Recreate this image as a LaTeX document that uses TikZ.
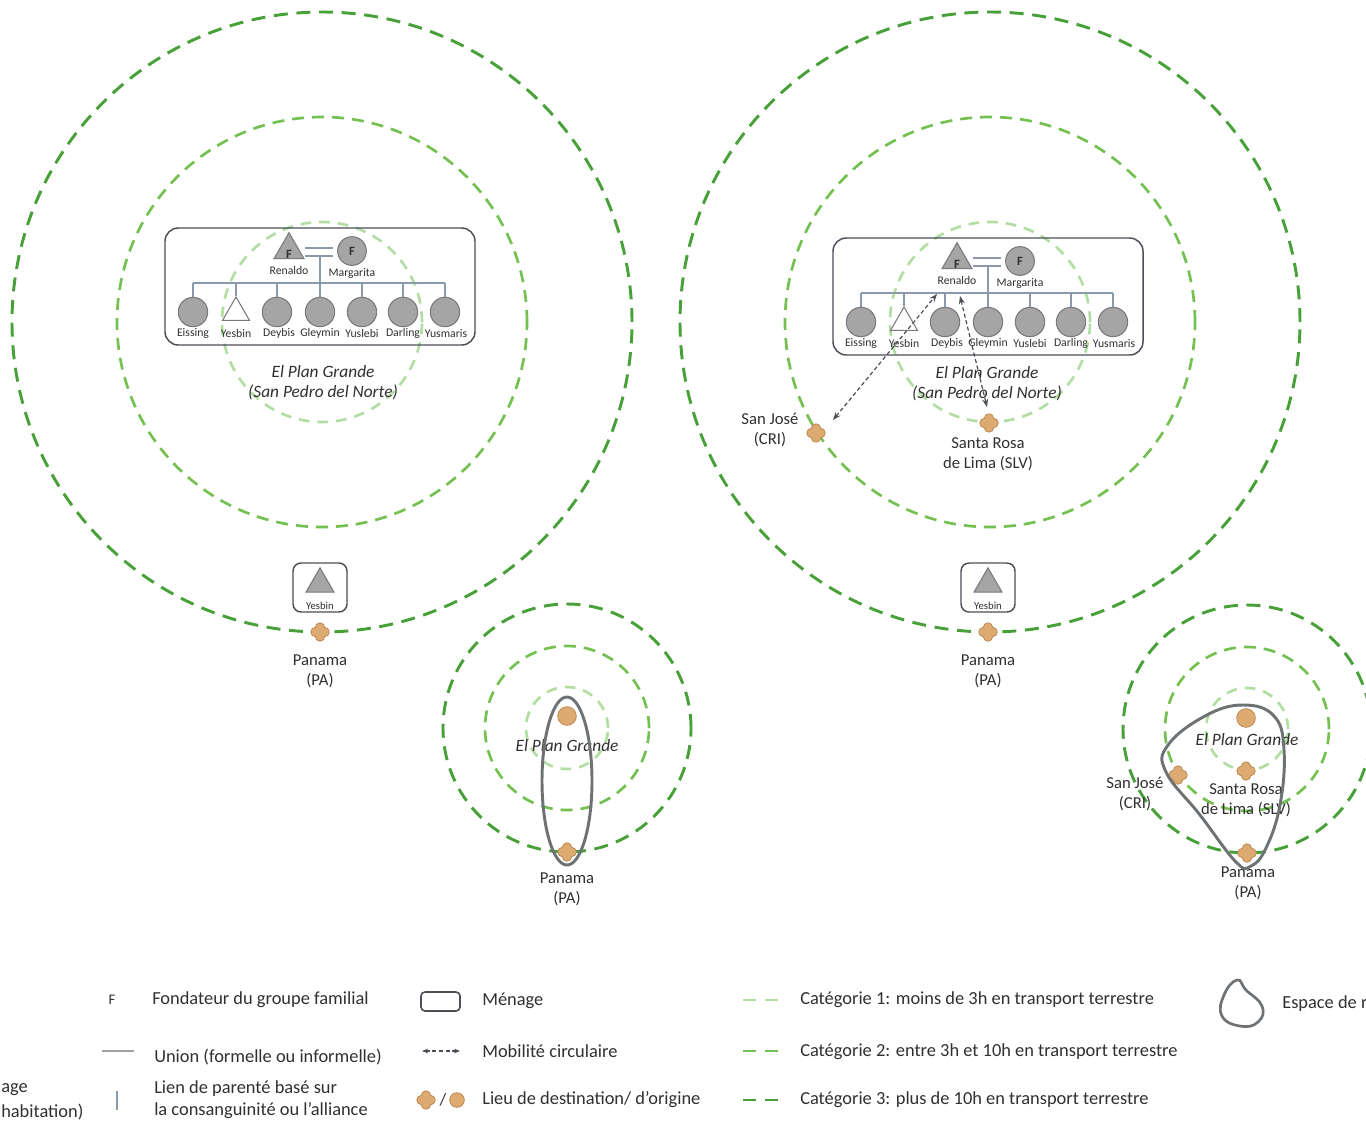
\documentclass[tikz,border=0pt]{standalone}
\usepackage{fontspec}
\setmainfont{Carlito}
\usetikzlibrary{shapes.geometric,arrows.meta}
\definecolor{cA}{HTML}{B3DEA3}
\definecolor{cB}{HTML}{74C050}
\definecolor{cC}{HTML}{47A138}
\definecolor{tanf}{HTML}{DDAA72}
\definecolor{tanl}{HTML}{BF8B52}
\definecolor{pgray}{HTML}{A5A5A5}
\definecolor{pline}{HTML}{7A7A7A}
\definecolor{treel}{HTML}{8A9AAB}
\definecolor{boxl}{HTML}{4A4F55}
\definecolor{txt}{HTML}{303030}
\definecolor{blobc}{HTML}{6E7275}
\tikzset{
 catA/.style={draw=cA, line width=2pt, dash pattern=on 8pt off 6pt},
 catB/.style={draw=cB, line width=2pt, dash pattern=on 9pt off 6pt},
 catC/.style={draw=cC, line width=2.2pt, dash pattern=on 10.5pt off 6.5pt},
 fem/.style={circle, draw=pline, fill=pgray, line width=0.8pt, minimum size=22pt, inner sep=0pt},
 mal/.style={regular polygon, regular polygon sides=3, draw=pline, fill=pgray, line width=0.8pt, inner sep=0pt},
 malw/.style={mal, fill=white},
 hbox/.style={draw=boxl, rounded corners=10pt, line width=1.1pt, inner sep=0pt},
 tree/.style={draw=treel, line width=0.9pt},
 nm/.style={font=\fontsize{8.8}{9}\selectfont, inner sep=0pt},
 ff/.style={font=\bfseries\fontsize{9.5}{9.5}\selectfont, inner sep=0pt},
 plc/.style={font=\fontsize{12.5}{15}\selectfont, align=center, inner sep=0pt},
 plci/.style={font=\itshape\fontsize{13}{15}\selectfont, align=center, inner sep=0pt},
 leg/.style={font=\fontsize{13.8}{16.5}\selectfont, inner sep=0pt, anchor=west, align=left},
 orig/.style={circle, fill=tanf, draw=tanl, line width=0.6pt, minimum size=14pt, inner sep=0pt},
 blob/.style={draw=blobc, line width=2.2pt},
 mob/.style={draw=boxl, line width=0.9pt, densely dashed, {Stealth[length=6pt,width=4.5pt]}-{Stealth[length=6pt,width=4.5pt]}},
 pics/dest/.style={code={
   \foreach \a in {0,90,180,270}{\fill[tanl] (\a:4.5) circle (3.9pt);}
   \foreach \a in {0,90,180,270}{\fill[tanf] (\a:4.5) circle (3.1pt);}
   \fill[tanf] (0,0) circle (3.6pt);
 }}
}
\newcommand\famtree[1]{%
 \node[hbox, minimum width=232.5pt, minimum height=87.75pt] (#1box) at (320,286.5) {};
 \node[mal, minimum size=26pt] (#1ren) at (289,250) {};
 \node[ff] at (289,254) {F};
 \node[fem, minimum size=21.5pt, font=\bfseries\fontsize{9.5}{9.5}\selectfont] (#1mar) at (352,251) {F};
 \node[nm] at (289,270) {Renaldo};
 \node[nm] at (352,273) {Margarita};
 \draw[tree] (305,248) -- (333,248);
 \draw[tree] (305,256) -- (333,256);
 \coordinate (#1sib) at (320,283);
 \draw[tree] (320,256) -- (#1sib);
 \node[fem] (#1c1) at (193,312) {};
 \node[malw, minimum size=23.4pt] (#1c2) at (236,312.6) {};
 \node[fem] (#1c3) at (277,312) {};
 \node[fem] (#1c4) at (320,312) {};
 \node[fem] (#1c5) at (362,312) {};
 \node[fem] (#1c6) at (403,312) {};
 \node[fem] (#1c7) at (445,312) {};
 \draw[tree] (#1c1.north |- #1sib) -- (#1c7.north |- #1sib);
 \foreach \n in {c1,c2,c3,c4,c5,c6,c7}{\draw[tree] (#1\n.north) -- (#1\n.north |- #1sib);}
 \node[nm] at (193,333) {Eissing};
 \node[nm] at (236,333) {Yesbin};
 \node[nm] at (279,333) {Deybis};
 \node[nm] at (320,333) {Gleymin};
 \node[nm] at (362,333) {Yuslebi};
 \node[nm] at (403,333) {Darling};
 \node[nm] at (446,333) {Yusmaris};
}
\newcommand\yesbox[1]{%
 \node[hbox, rounded corners=6pt, minimum width=40.5pt, minimum height=36.75pt] (#1yb) at (320,587.5) {};
 \node[mal, minimum size=24.2pt] (#1ybt) at (320,584) {};
 \node[font=\fontsize{8}{8}\selectfont, inner sep=0pt] at (320,606) {Yesbin};
}
\begin{document}
\begin{tikzpicture}[x=0.75pt,y=-0.75pt, every node/.style={text=txt}]
\useasboundingbox (0,0) rectangle (1366,1122);
\clip (0,0) rectangle (1366,1122);
\fill[white] (0,0) rectangle (1366,1122);

% ---------- left big system
\coordinate (Lc) at (322,322);
\draw[catC] (Lc) circle[radius=232.5pt];
\draw[catB] (Lc) circle[radius=153.75pt];
\draw[catA] (Lc) circle[radius=75pt];
\famtree{L}
\node[plci] at (323,383) {El Plan Grande\\(San Pedro del Norte)};
\yesbox{L}
\coordinate (LPa) at (320,632);
\pic at (LPa) {dest};
\node[plc] at (320,671) {Panama\\(PA)};

% ---------- right big system
\coordinate (Rc) at (990,322);
\draw[catC] (Rc) circle[radius=232.5pt];
\draw[catB] (Rc) circle[radius=153.75pt];
\draw[catA] (Rc) circle[radius=75pt];
\begin{scope}[shift={(668,10)}]
\famtree{R}
\end{scope}
\node[plci] at (987,384) {El Plan Grande\\(San Pedro del Norte)};
\begin{scope}[shift={(668,0)}]
\yesbox{R}
\end{scope}
\coordinate (RPa) at (988,632);
\pic at (RPa) {dest};
\node[plc] at (988,671) {Panama\\(PA)};
\coordinate (RSJ) at (816,433);
\pic at (RSJ) {dest};
\node[plc] at (770,430) {San José\\(CRI)};
\coordinate (RSR) at (989,423);
\pic at (RSR) {dest};
\node[plc] at (988,454) {Santa Rosa\\de Lima (SLV)};
\coordinate (m1a) at (833,420);
\coordinate (m1b) at (937,294);
\coordinate (m2a) at (960,296);
\coordinate (m2b) at (987,407);
\draw[mob] (m1a) -- (m1b);
\draw[mob] (m2a) -- (m2b);

% ---------- small left system
\coordinate (sL) at (567,728);
\draw[catC] (sL) circle[radius=93pt];
\draw[catB] (sL) circle[radius=61.5pt];
\draw[catA] (sL) circle[radius=30.75pt];
\node[orig] (oL) at (567,716) {};
\node[plci] at (567,746) {El Plan Grande};
\coordinate (sLPa) at (567,852);
\pic at (sLPa) {dest};
\draw[blob] (567,781) ellipse [x radius=18.75pt, y radius=63pt];
\node[plc] at (567,889) {Panama\\(PA)};

% ---------- small right system
\coordinate (sR) at (1247,729);
\draw[catC] (sR) circle[radius=93pt];
\draw[catB] (sR) circle[radius=61.5pt];
\draw[catA] (sR) circle[radius=30.75pt];
\node[orig] (oR) at (1246,718) {};
\node[plci] at (1247,740) {El Plan Grande};
\coordinate (sRSR) at (1246,771);
\pic at (sRSR) {dest};
\node[plc] at (1246,800) {Santa Rosa\\de Lima (SLV)};
\coordinate (sRSJ) at (1178,775);
\pic at (sRSJ) {dest};
\node[plc] at (1135,794) {San José\\(CRI)};
\coordinate (sRPa) at (1247,853);
\pic at (sRPa) {dest};
\node[plc] at (1248,883) {Panama\\(PA)};
\draw[blob] plot[smooth cycle, tension=0.7] coordinates {(1243,705) (1274,716) (1284,750) (1280,805) (1266,848) (1251,866) (1236,862) (1200,815) (1166,772) (1168,745) (1205,716)};

% ---------- legend
\node[font=\fontsize{11}{11}\selectfont, inner sep=0pt] (lgF) at (112,1000) {F};
\node[leg] at (152,1000) {Fondateur du groupe familial};
\coordinate (lgU1) at (102,1051);
\coordinate (lgU2) at (134,1051);
\draw[draw=pline!70, line width=1pt] (lgU1) -- (lgU2);
\node[leg] at (154,1057) {Union (formelle ou informelle)};
\coordinate (lgL1) at (117,1091);
\coordinate (lgL2) at (117,1110);
\draw[tree, line width=1.2pt] (lgL1) -- (lgL2);
\node[leg] at (154,1100) {Lien de parenté basé sur\\la consanguinité ou l’alliance};
\node[leg] at (1,1090) {age};
\node[leg] at (1,1112) {habitation)};

\draw[draw=boxl, line width=1.2pt, rounded corners=3pt] (421,992) rectangle (460,1011);
\node[leg] at (482,1001) {Ménage};
\coordinate (lgM1) at (422,1051);
\coordinate (lgM2) at (460,1051);
\draw[mob, line width=0.8pt, {Stealth[length=4.5pt,width=3.5pt]}-{Stealth[length=4.5pt,width=3.5pt]}] (lgM1) -- (lgM2);
\node[leg] at (482,1051) {Mobilité circulaire};
\coordinate (lgD) at (426,1100);
\pic at (lgD) {dest};
\node[font=\fontsize{13}{13}\selectfont, inner sep=0pt] at (443,1100) {/};
\node[orig, minimum size=11pt] (lgO) at (457,1100) {};
\node[leg] at (482,1100) {Lieu de destination/ d’origine};

\coordinate (lgA1) at (743,1000); \coordinate (lgA2) at (778,1000);
\coordinate (lgB1) at (743,1051); \coordinate (lgB2) at (778,1051);
\coordinate (lgC1) at (743,1100); \coordinate (lgC2) at (778,1100);
\draw[catA, dash pattern=on 9.75pt off 6.75pt] (lgA1) -- (lgA2);
\draw[catB, dash pattern=on 9.75pt off 6.75pt] (lgB1) -- (lgB2);
\draw[catC, dash pattern=on 9.75pt off 6.75pt] (lgC1) -- (lgC2);
\node[leg] at (800,1000) {Catégorie 1: moins de 3h en transport terrestre};
\node[leg] at (800,1052) {Catégorie 2: entre 3h et 10h en transport terrestre};
\node[leg] at (800,1100) {Catégorie 3: plus de 10h en transport terrestre};

\draw[blob, line width=2pt] plot[smooth cycle, tension=0.8] coordinates {(1237,980) (1246,990) (1262,1006) (1258,1022) (1240,1026) (1222,1016) (1224,995)};
\node[leg] at (1282,1004) {Espace de r};
\end{tikzpicture}
\end{document}
